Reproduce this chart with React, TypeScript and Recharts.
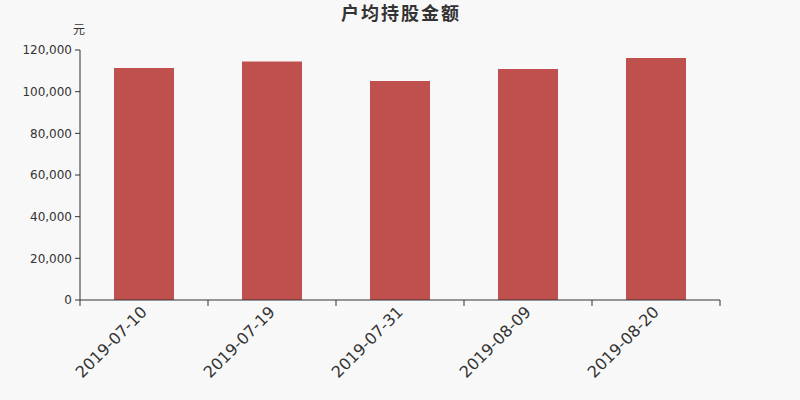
import React from "react";
import { BarChart, Bar, XAxis, YAxis } from "recharts";

const categories = ["2019-07-10", "2019-07-19", "2019-07-31", "2019-08-09", "2019-08-20"];
const values = [111400, 114500, 105100, 110900, 116200];
const yTicks = [0, 20000, 40000, 60000, 80000, 100000, 120000];

const data = categories.map((c, i) => ({ date: c, value: values[i] }));

const fmt = (v: number) => v.toLocaleString("en-US");

const XTick = (props: any) => {
  const { x, y, payload, index, visibleTicksCount } = props;
  const off = payload && payload.offset ? payload.offset : 0;
  const axisY = y - 8;
  const isLast = index === visibleTicksCount - 1;
  return (
    <g>
      <line x1={x - off} x2={x - off} y1={axisY} y2={axisY + 6} stroke="#333" />
      {isLast ? <line x1={x + off} x2={x + off} y1={axisY} y2={axisY + 6} stroke="#333" /> : null}
      <g transform={`translate(${x - 3},${y - 2})`}>
        <text
          x={0}
          y={0}
          dy={10}
          textAnchor="end"
          transform="rotate(-45)"
          fill="#333"
          fontSize={16}
          fontFamily="DejaVu Sans, sans-serif"
        >
          {payload.value}
        </text>
      </g>
    </g>
  );
};

export default function App() {
  return (
    <div
      style={{
        position: "absolute",
        left: 0,
        top: 0,
        width: 800,
        height: 400,
        background: "#f8f8f8",
        fontFamily: "DejaVu Sans, sans-serif",
      }}
    >
      <div
        style={{
          position: "absolute",
          top: -1,
          left: 1,
          width: 800,
          textAlign: "center",
          fontSize: 18,
          letterSpacing: 2,
          fontWeight: "bold",
          color: "#333",
          fontFamily: "Noto Sans CJK SC, sans-serif",
        }}
      >
        户均持股金额
      </div>
      <div
        style={{
          position: "absolute",
          top: 20,
          left: 73,
          fontSize: 12,
          color: "#333",
          fontFamily: "Noto Sans CJK SC, sans-serif",
        }}
      >
        元
      </div>
      <BarChart
        width={800}
        height={400}
        data={data}
        margin={{ top: 50, right: 80, left: 0, bottom: 0 }}
        barCategoryGap={34}
      >
        <XAxis
          dataKey="date"
          tick={<XTick />}
          tickLine={false}
          tickSize={6}
          tickMargin={2}
          axisLine={{ stroke: "#333" }}
          interval={0}
          height={100}
        />
        <YAxis
          width={80}
          domain={[0, 120000]}
          ticks={yTicks}
          tickFormatter={fmt}
          tick={{ fill: "#333", fontSize: 12 }}
          tickLine={{ stroke: "#333" }}
          axisLine={{ stroke: "#333" }}
          tickSize={5}
          tickMargin={3}
        />
        <Bar dataKey="value" fill="#c0504d" isAnimationActive={false} />
      </BarChart>
    </div>
  );
}
